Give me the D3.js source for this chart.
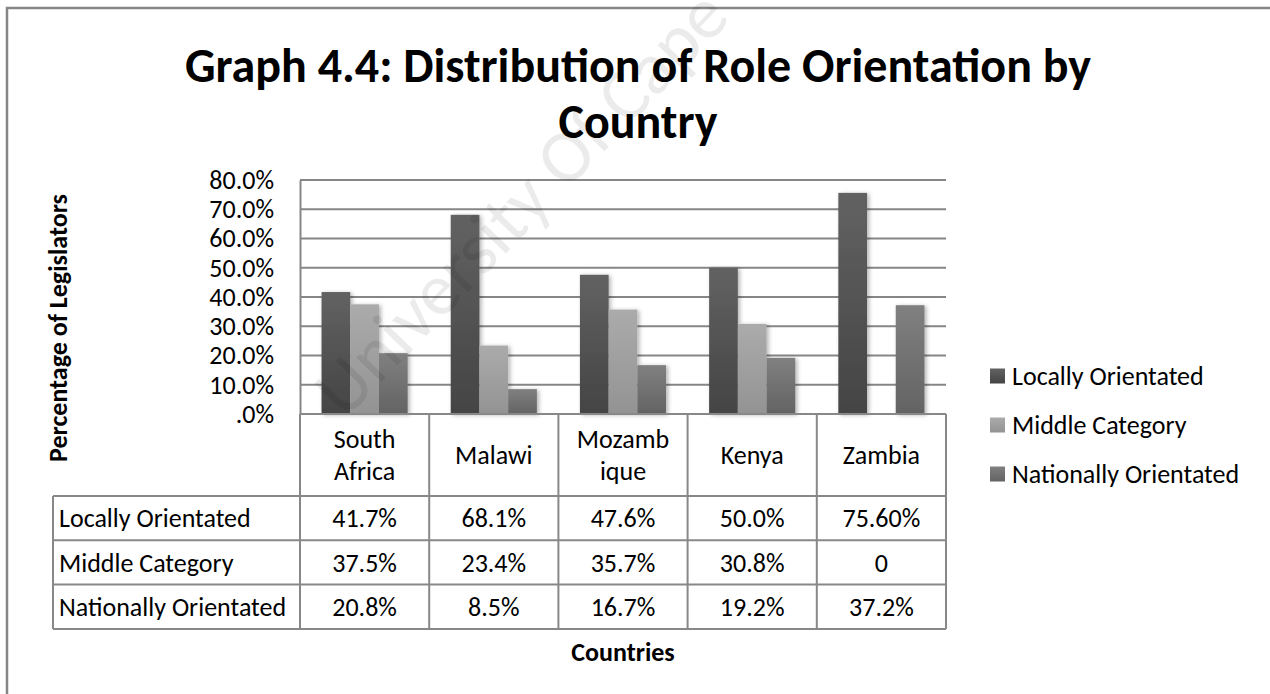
<!DOCTYPE html>
<html>
<head>
<meta charset="utf-8">
<script src="https://cdn.jsdelivr.net/npm/d3@7/dist/d3.min.js"></script>
<style>
  html, body { margin: 0; padding: 0; background: #fff; }
  svg { display: block; }
  text { font-family: Carlito, Lato, "Open Sans", sans-serif; }
</style>
</head>
<body>
<script>
// values
var countries = ["South Africa", "Malawi", "Mozambique", "Kenya", "Zambia"];
var headerLines = [["South", "Africa"], ["Malawi"], ["Mozamb", "ique"], ["Kenya"], ["Zambia"]];
var seriesNames = ["Locally Orientated", "Middle Category", "Nationally Orientated"];
var locally = [41.7, 68.1, 47.6, 50.0, 75.6];
var middle = [37.5, 23.4, 35.7, 30.8, 0];
var nationally = [20.8, 8.5, 16.7, 19.2, 37.2];
var locallyText = ["41.7%", "68.1%", "47.6%", "50.0%", "75.60%"];
var middleText = ["37.5%", "23.4%", "35.7%", "30.8%", "0"];
var nationallyText = ["20.8%", "8.5%", "16.7%", "19.2%", "37.2%"];
var yTicks = [0, 10, 20, 30, 40, 50, 60, 70, 80];

var W = 1270, H = 694;
var plotL = 300, plotR = 946, plotT = 180, plotB = 414;
var rowH = 44.3, headH = 82;
var fs = "26px";

var svg = d3.select("body").append("svg").attr("width", W).attr("height", H);
var defs = svg.append("defs");

var colors = [["#626262", "#444444"], ["#ababab", "#939393"], ["#808080", "#636363"]];
colors.forEach(function(c, i) {
  var g = defs.append("linearGradient").attr("id", "g" + i)
    .attr("x1", 0).attr("y1", 0).attr("x2", 0).attr("y2", 1);
  g.append("stop").attr("offset", "0%").attr("stop-color", c[0]);
  g.append("stop").attr("offset", "100%").attr("stop-color", c[1]);
});
defs.append("filter").attr("id", "shadow").attr("x", "-20%").attr("y", "-5%").attr("width", "150%").attr("height", "115%")
  .append("feDropShadow").attr("dx", 2).attr("dy", 1).attr("stdDeviation", 2)
  .attr("flood-color", "#000").attr("flood-opacity", 0.3);

// outer frame
svg.append("rect").attr("x", 7).attr("y", 8).attr("width", W + 10).attr("height", H + 10)
  .attr("fill", "none").attr("stroke", "#868686").attr("stroke-width", 2.5);

// title
svg.append("text").attr("x", 638).attr("y", 82).attr("text-anchor", "middle")
  .style("font-size", "48px").style("font-weight", "bold")
  .text("Graph 4.4: Distribution of Role Orientation by");
svg.append("text").attr("x", 638).attr("y", 138).attr("text-anchor", "middle")
  .style("font-size", "48px").style("font-weight", "bold")
  .text("Country");

var x = d3.scaleBand().domain(countries).range([plotL, plotR]);
var xs = d3.scaleBand().domain([0, 1, 2]).range([0, x.bandwidth()]).paddingOuter(0.75);
var y = d3.scaleLinear().domain([0, 80]).range([plotB, plotT]);

// gridlines
svg.append("g").selectAll("line").data(yTicks.slice(1)).enter().append("line")
  .attr("x1", plotL).attr("x2", plotR)
  .attr("y1", function(d) { return y(d); }).attr("y2", function(d) { return y(d); })
  .attr("stroke", "#868686").attr("stroke-width", 2);

// y axis
var yAxis = svg.append("g").attr("transform", "translate(" + plotL + ",0)")
  .call(d3.axisLeft(y).tickValues(yTicks).tickSize(0).tickPadding(26)
    .tickFormat(function(d) { return d === 0 ? ".0%" : d.toFixed(1) + "%"; }));
yAxis.select(".domain").attr("stroke", "#868686").attr("stroke-width", 2);
yAxis.selectAll("text").style("font-size", fs).style("fill", "#000")
  .style("font-family", "Carlito, Lato, 'Open Sans', sans-serif");

svg.append("text").attr("transform", "translate(67,328) rotate(-90)").attr("text-anchor", "middle")
  .style("font-size", fs).style("font-weight", "bold").text("Percentage of Legislators");

// bars
var series = [locally, middle, nationally];
var bars = svg.append("g").attr("filter", "url(#shadow)");
series.forEach(function(vals, si) {
  bars.selectAll(".s" + si).data(vals).enter().append("rect")
    .attr("class", "s" + si)
    .attr("x", function(d, i) { return x(countries[i]) + xs(si); })
    .attr("width", xs.bandwidth())
    .attr("y", function(d) { return y(d); })
    .attr("height", function(d) { return plotB - y(d); })
    .attr("fill", "url(#g" + si + ")");
});

// data table
var tbl = svg.append("g").attr("stroke", "#888").attr("stroke-width", 2).attr("fill", "none");
var tblB = plotB + headH + 3 * rowH;
tbl.append("line").attr("x1", plotL).attr("x2", plotR).attr("y1", plotB).attr("y2", plotB);
[0, 1, 2, 3].forEach(function(r) {
  var yy = plotB + headH + r * rowH;
  tbl.append("line").attr("x1", 53).attr("x2", plotR).attr("y1", yy).attr("y2", yy);
});
tbl.append("line").attr("x1", 53).attr("x2", 53).attr("y1", plotB + headH).attr("y2", tblB);
countries.forEach(function(c) {
  tbl.append("line").attr("x1", x(c)).attr("x2", x(c)).attr("y1", plotB).attr("y2", tblB);
});
tbl.append("line").attr("x1", plotR).attr("x2", plotR).attr("y1", plotB).attr("y2", tblB);

countries.forEach(function(c, i) {
  var lines = headerLines[i];
  lines.forEach(function(t, k) {
    svg.append("text").attr("x", x(c) + x.bandwidth() / 2)
      .attr("y", plotB + headH / 2 + (k - (lines.length - 1) / 2) * 32)
      .attr("dy", "0.35em").attr("text-anchor", "middle").style("font-size", fs).text(t);
  });
});

var rowTexts = [locallyText, middleText, nationallyText];
rowTexts.forEach(function(vals, r) {
  var cy = plotB + headH + r * rowH + rowH / 2;
  svg.append("text").attr("x", 59).attr("y", cy).attr("dy", "0.35em")
    .style("font-size", fs).text(seriesNames[r]);
  vals.forEach(function(v, i) {
    svg.append("text").attr("x", x(countries[i]) + x.bandwidth() / 2).attr("y", cy).attr("dy", "0.35em")
      .attr("text-anchor", "middle").style("font-size", fs).text(v);
  });
});

svg.append("text").attr("x", (plotL + plotR) / 2).attr("y", 652).attr("dy", "0.35em")
  .attr("text-anchor", "middle").style("font-size", fs).style("font-weight", "bold").text("Countries");

// legend
var lg = svg.append("g");
seriesNames.forEach(function(s, i) {
  var ly = 376 + i * 49;
  lg.append("rect").attr("x", 990).attr("y", ly - 7.5).attr("width", 15).attr("height", 15)
    .attr("fill", "url(#g" + i + ")");
  lg.append("text").attr("x", 1012).attr("y", ly).attr("dy", "0.35em").style("font-size", fs).text(s);
});

// watermark
svg.append("text").attr("transform", "translate(345,420) rotate(-46)")
  .style("font-size", "74px").style("fill", "#000").style("fill-opacity", 0.08)
  .text("University Of Cape Town");
</script>
</body>
</html>
